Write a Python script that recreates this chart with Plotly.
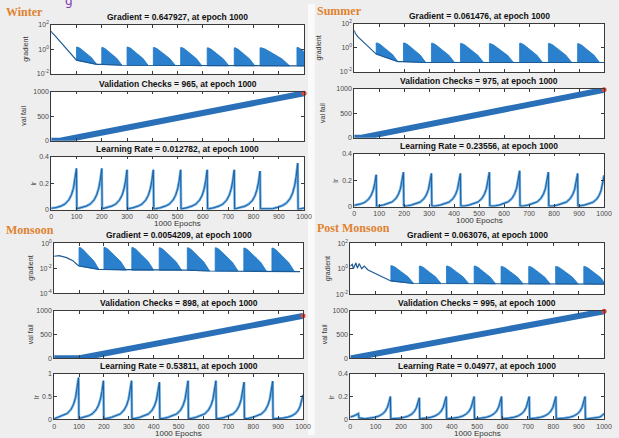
import math
import plotly.graph_objects as go

W, H = 619, 438

# ---------------- data ----------------
epoch_tick_values = [0, 100, 200, 300, 400, 500, 600, 700, 800, 900, 1000]
epoch_tick_labels = ["0", "100", "200", "300", "400", "500", "600", "700", "800", "900", "1000"]
panel_names = ["Winter", "Summer", "Monsoon", "Post Monsoon"]

# Winter
winter_titles = ["Gradient = 0.647927, at epoch 1000",
                 "Validation Checks = 965, at epoch 1000",
                 "Learning Rate = 0.012782, at epoch 1000"]
winter_grad_init_epochs = [0, 3, 13, 32, 65, 84, 100]
winter_grad_init_values = [30, 22, 14, 5.0, 0.8, 0.29, 0.13]
winter_jump_epochs = [100, 200, 300, 404, 512, 617, 724, 826, 972]
winter_grad_peaks = [1.5, 1.4, 1.5, 1.4, 1.4, 1.3, 1.3, 1.3, 1.4]
winter_grad_bases = [0.13, 0.06, 0.05, 0.05, 0.05, 0.045, 0.045, 0.045, 0.045, 0.045]
winter_val_epochs = [0, 35, 1000]
winter_val_values = [0, 0, 965]
winter_lr_start = [0, 0.01]
winter_lr_peak_epochs = [100, 200, 300, 404, 512, 617, 724, 826, 975, 1000]
winter_lr_peak_values = [0.31, 0.31, 0.30, 0.30, 0.30, 0.30, 0.30, 0.29, 0.35, 0.0128]

# Summer
summer_titles = ["Gradient = 0.061476, at epoch 1000",
                 "Validation Checks = 975, at epoch 1000",
                 "Learning Rate = 0.23556, at epoch 1000"]
summer_grad_init_epochs = [0, 4, 15, 40, 70, 88]
summer_grad_init_values = [28, 16, 8, 2.5, 0.6, 0.3]
summer_jump_epochs = [88, 197, 309, 425, 541, 662, 777, 894]
summer_grad_peaks = [2.5, 2.5, 2.4, 2.3, 2.2, 2.4, 2.3, 2.2]
summer_grad_bases = [0.3, 0.07, 0.06, 0.06, 0.06, 0.06, 0.06, 0.06, 0.06]
summer_val_epochs = [0, 25, 1000]
summer_val_values = [0, 0, 975]
summer_lr_start = [0, 0.01]
summer_lr_peak_epochs = [88, 197, 309, 425, 541, 662, 777, 894, 1000]
summer_lr_peak_values = [0.24, 0.26, 0.25, 0.25, 0.26, 0.27, 0.26, 0.25, 0.236]

# Monsoon
monsoon_titles = ["Gradient = 0.0054209, at epoch 1000",
                  "Validation Checks = 898, at epoch 1000",
                  "Learning Rate = 0.53811, at epoch 1000"]
monsoon_grad_init_epochs = [0, 20, 50, 75, 92, 100]
monsoon_grad_init_values = [0.09, 0.1, 0.07, 0.04, 0.02, 0.015]
monsoon_jump_epochs = [100, 200, 312, 422, 535, 647, 762, 875]
monsoon_grad_peaks = [0.45, 0.45, 0.45, 0.42, 0.42, 0.42, 0.4, 0.4]
monsoon_grad_bases = [0.015, 0.008, 0.007, 0.007, 0.007, 0.006, 0.006, 0.006, 0.0054]
monsoon_val_epochs = [0, 102, 1000]
monsoon_val_values = [0, 0, 898]
monsoon_lr_start = [0, 0.01]
monsoon_lr_peak_epochs = [98, 198, 311, 423, 538, 650, 763, 878, 1000]
monsoon_lr_peak_values = [0.92, 0.85, 0.85, 0.82, 0.85, 0.85, 0.82, 0.84, 0.538]

# Post Monsoon
post_titles = ["Gradient = 0.063076, at epoch 1000",
               "Validation Checks = 995, at epoch 1000",
               "Learning Rate = 0.04977, at epoch 1000"]
post_grad_init_epochs = [0, 8, 12, 22, 28, 35, 45, 55, 70, 90, 120, 160]
post_grad_init_values = [1.6, 2.2, 1.0, 2.8, 1.1, 2.5, 1.0, 1.6, 0.8, 0.5, 0.25, 0.11]
post_jump_epochs = [160, 272, 379, 488, 594, 703, 809, 920]
post_grad_peaks = [1.7, 1.6, 1.6, 1.6, 1.5, 1.5, 1.5, 1.5]
post_grad_bases = [0.11, 0.07, 0.07, 0.07, 0.065, 0.065, 0.065, 0.065, 0.063]
post_val_epochs = [0, 5, 1000]
post_val_values = [0, 0, 995]
post_lr_start_epochs = [0, 15, 32, 34]
post_lr_start_values = [0.02, 0.03, 0.05, 0.012]
post_lr_peak_epochs = [158, 272, 378, 488, 596, 705, 810, 925, 1000]
post_lr_peak_values = [0.20, 0.19, 0.20, 0.20, 0.20, 0.20, 0.20, 0.20, 0.0498]

# shape templates read from the teeth / spikes
tooth_top_pos = [0.0, 0.04, 0.14, 0.35, 0.6, 0.8]
tooth_top_level = [1.0, 1.0, 0.93, 0.68, 0.38, 0.0]
lr_rise_offsets = [-100, -80, -60, -45, -30, -20, -12, -6, -2, 0]
lr_rise_fractions = [0.02, 0.05, 0.09, 0.14, 0.24, 0.36, 0.52, 0.72, 0.9, 1.0]

# ---------------- layout geometry (pixels) ----------------
panels = [
    dict(name="Winter", x=(50, 307), G=(21, 71), V=(89, 139), L=(155, 209),
         label=(2, -1), lsize=12, yt=(25, 28, 18), grange=[-2, 2], gticks=[1e-2, 1, 1e2],
         gtext=["10<sup>-2</sup>", "10<sup>0</sup>", "10<sup>2</sup>"],
         lrange=[0, 0.4], lticks=[0, 0.2, 0.4], ltext=["0", "0.2", "0.4"],
         titles=winter_titles,
         gi=(winter_grad_init_epochs, winter_grad_init_values),
         jumps=winter_jump_epochs, peaks=winter_grad_peaks, bases=winter_grad_bases, lastlen=100,
         val=(winter_val_epochs, winter_val_values),
         lrs=([winter_lr_start[0]], [winter_lr_start[1]]),
         lrp=(winter_lr_peak_epochs, winter_lr_peak_values)),
    dict(name="Summer", x=(358, 612), G=(20, 69), V=(86, 136), L=(152, 206),
         label=(318, -2), lsize=12, yt=(36, 33, 19), grange=[-2, 2], gticks=[1e-2, 1, 1e2],
         gtext=["10<sup>-2</sup>", "10<sup>0</sup>", "10<sup>2</sup>"],
         lrange=[0, 0.4], lticks=[0, 0.2, 0.4], ltext=["0", "0.2", "0.4"],
         titles=summer_titles,
         gi=(summer_grad_init_epochs, summer_grad_init_values),
         jumps=summer_jump_epochs, peaks=summer_grad_peaks, bases=summer_grad_bases, lastlen=110,
         val=(summer_val_epochs, summer_val_values),
         lrs=([summer_lr_start[0]], [summer_lr_start[1]]),
         lrp=(summer_lr_peak_epochs, summer_lr_peak_values)),
    dict(name="Monsoon", x=(53, 306), G=(243, 294), V=(312, 360), L=(376, 422),
         label=(2, 221), lsize=12, yt=(23, 24, 18), grange=[-4, 0], gticks=[1e-4, 1e-2, 1],
         gtext=["10<sup>-4</sup>", "10<sup>-2</sup>", "10<sup>0</sup>"],
         lrange=[0, 1], lticks=[0, 0.5, 1], ltext=["0", "0.5", "1"],
         titles=monsoon_titles,
         gi=(monsoon_grad_init_epochs, monsoon_grad_init_values),
         jumps=monsoon_jump_epochs, peaks=monsoon_grad_peaks, bases=monsoon_grad_bases, lastlen=113,
         val=(monsoon_val_epochs, monsoon_val_values),
         lrs=([monsoon_lr_start[0]], [monsoon_lr_start[1]]),
         lrp=(monsoon_lr_peak_epochs, monsoon_lr_peak_values)),
    dict(name="Post Monsoon", x=(354, 612), G=(243, 295), V=(312, 360), L=(376, 422),
         label=(318, 218), lsize=12, yt=(23, 26, 19), grange=[-2, 2], gticks=[1e-2, 1, 1e2],
         gtext=["10<sup>-2</sup>", "10<sup>0</sup>", "10<sup>2</sup>"],
         lrange=[0, 0.4], lticks=[0, 0.2, 0.4], ltext=["0", "0.2", "0.4"],
         titles=post_titles,
         gi=(post_grad_init_epochs, post_grad_init_values),
         jumps=post_jump_epochs, peaks=post_grad_peaks, bases=post_grad_bases, lastlen=108,
         val=(post_val_epochs, post_val_values),
         lrs=(post_lr_start_epochs, post_lr_start_values),
         lrp=(post_lr_peak_epochs, post_lr_peak_values)),
]

BLUE = "#1f77c4"
DARK = "#1d5a94"
FILL = "#2a80cc"
AXC = "#3a3a3a"
TICKC = "#4a4a4a"
FONT = "Liberation Sans, Arial, sans-serif"

fig = go.Figure()
annotations = []
layout_axes = {}


def px_x(p):
    return p / W


def px_y(p):
    return 1 - p / H


def lr_curve(start_x, start_y, peak_x, peak_y):
    xs, ys = list(start_x), list(start_y)
    prev = start_x[-1]
    n = len(peak_x)
    for i, (p, v) in enumerate(zip(peak_x, peak_y)):
        for off, fr in zip(lr_rise_offsets, lr_rise_fractions):
            e = p + off
            if e > prev + 2:
                xs.append(e)
                ys.append(v * fr)
        if i < n - 1:
            xs.append(p + 1.5)
            ys.append(peak_y[i + 1] * lr_rise_fractions[0])
            prev = p + 1.5
    return xs, ys


axis_idx = 0
for pn in panels:
    x0, x1 = pn["x"]
    for kind in ["G", "V", "L"]:
        axis_idx += 1
        k = "" if axis_idx == 1 else str(axis_idx)
        xa, ya = "x" + k, "y" + k
        top, bot = pn[kind]
        xaxis = dict(domain=[px_x(x0), px_x(x1)], range=[0, 1000], anchor=ya,
                     tickmode="array", tickvals=epoch_tick_values, ticktext=epoch_tick_labels,
                     ticks="inside", ticklen=3, tickwidth=0.7, tickcolor=AXC,
                     showline=True, linecolor=AXC, linewidth=0.8, mirror="allticks",
                     showgrid=False, zeroline=False, fixedrange=True,
                     showticklabels=(kind == "L"),
                     tickfont=dict(size=7, color=TICKC, family=FONT))
        yaxis = dict(domain=[px_y(bot), px_y(top)], anchor=xa,
                     ticks="inside", ticklen=3, tickwidth=0.7, tickcolor=AXC,
                     showline=True, linecolor=AXC, linewidth=0.8, mirror="allticks",
                     showgrid=False, zeroline=False, fixedrange=True,
                     tickfont=dict(size=7, color=TICKC, family=FONT), tickmode="array")
        if kind == "G":
            yaxis.update(type="log", range=pn["grange"], tickvals=pn["gticks"], ticktext=pn["gtext"])
            jumps, peaks, bases = pn["jumps"], pn["peaks"], pn["bases"]
            bx = list(pn["gi"][0])
            by = list(pn["gi"][1])
            for i, j in enumerate(jumps):
                nxt = jumps[i + 1] if i + 1 < len(jumps) else j + pn["lastlen"]
                L = nxt - j
                lb = math.log10(bases[i + 1])
                lp = math.log10(peaks[i])
                tx = [j] + [j + f * L for f in tooth_top_pos] + [j]
                ty = [bases[i]] + [10 ** (lb + lv * (lp - lb)) for lv in tooth_top_level] + [bases[i]]
                fig.add_trace(go.Scatter(x=tx, y=ty, xaxis=xa, yaxis=ya, mode="lines",
                                         fill="toself", fillcolor=FILL,
                                         line=dict(color=BLUE, width=0.8),
                                         hoverinfo="skip", showlegend=False))
                bx += [j, j + 0.8 * L, nxt]
                by += [bases[i], bases[i + 1], bases[i + 1]]
            fig.add_trace(go.Scatter(x=bx, y=by, xaxis=xa, yaxis=ya, mode="lines",
                                     line=dict(color=DARK, width=1.2),
                                     hoverinfo="skip", showlegend=False))
            ytitle = "gradient"
            yoff = pn["yt"][0]
        elif kind == "V":
            yaxis.update(range=[0, 1000], tickvals=[0, 500, 1000], ticktext=["0", "500", "1000"])
            vx, vy = pn["val"]
            fig.add_trace(go.Scatter(x=vx, y=vy, xaxis=xa, yaxis=ya, mode="lines",
                                     line=dict(color="#2a70b8", width=6),
                                     hoverinfo="skip", showlegend=False))
            fig.add_trace(go.Scatter(x=[vx[-1]], y=[vy[-1]], xaxis=xa, yaxis=ya, mode="markers",
                                     marker=dict(color="#e0453c", size=5),
                                     hoverinfo="skip", showlegend=False, cliponaxis=False))
            ytitle = "val fail"
            yoff = pn["yt"][1]
        else:
            yaxis.update(range=pn["lrange"], tickvals=pn["lticks"], ticktext=pn["ltext"])
            lx, ly = lr_curve(pn["lrs"][0], pn["lrs"][1], pn["lrp"][0], pn["lrp"][1])
            fig.add_trace(go.Scatter(x=lx, y=ly, xaxis=xa, yaxis=ya, mode="lines",
                                     line=dict(color="#6fb0e6", width=2.6),
                                     hoverinfo="skip", showlegend=False))
            fig.add_trace(go.Scatter(x=lx, y=ly, xaxis=xa, yaxis=ya, mode="lines",
                                     line=dict(color="#1e5f9c", width=1.0),
                                     hoverinfo="skip", showlegend=False))
            ytitle = "lr"
            yoff = pn["yt"][2]
            annotations.append(dict(text="1000 Epochs", x=px_x((x0 + x1) / 2), y=px_y(bot + 7.5),
                                    xref="paper", yref="paper", xanchor="center", yanchor="top",
                                    showarrow=False, font=dict(size=8, color="#333", family=FONT)))
        layout_axes["xaxis" + k] = xaxis
        layout_axes["yaxis" + k] = yaxis
        title = pn["titles"]["GVL".index(kind)]
        annotations.append(dict(text="<b>" + title + "</b>", x=px_x((x0 + x1) / 2), y=px_y(top - 1),
                                xref="paper", yref="paper", xanchor="center", yanchor="bottom",
                                showarrow=False, font=dict(size=8.5, color="#111", family=FONT)))
        annotations.append(dict(text=ytitle, x=px_x(x0 - yoff), y=px_y((top + bot) / 2),
                                xref="paper", yref="paper", xanchor="center", yanchor="middle",
                                textangle=-90, showarrow=False,
                                font=dict(size=7, color="#333", family=FONT)))
    lx_, ly_ = pn["label"]
    annotations.append(dict(text="<b>" + pn["name"] + "</b>", x=px_x(lx_), y=px_y(ly_),
                            xref="paper", yref="paper", xanchor="left", yanchor="top",
                            showarrow=False,
                            font=dict(size=pn["lsize"], color="#e0822e",
                                      family="Liberation Serif, Times New Roman, serif")))

annotations.append(dict(text="g", x=px_x(68), y=px_y(-3), xref="paper", yref="paper",
                        xanchor="center", yanchor="middle", showarrow=False,
                        font=dict(size=12, color="#7a35b0", family="DejaVu Sans")))

shapes = [dict(type="rect", xref="paper", yref="paper", x0=px_x(311), x1=px_x(318), y0=0, y1=1,
               fillcolor="#fafafa", line=dict(width=0), layer="below")]

fig.update_layout(width=W, height=H, margin=dict(l=0, r=0, t=0, b=0), autosize=False,
                  paper_bgcolor="#eeeeee", plot_bgcolor="white",
                  annotations=annotations, shapes=shapes, **layout_axes)

fig.write_html("out.html")
